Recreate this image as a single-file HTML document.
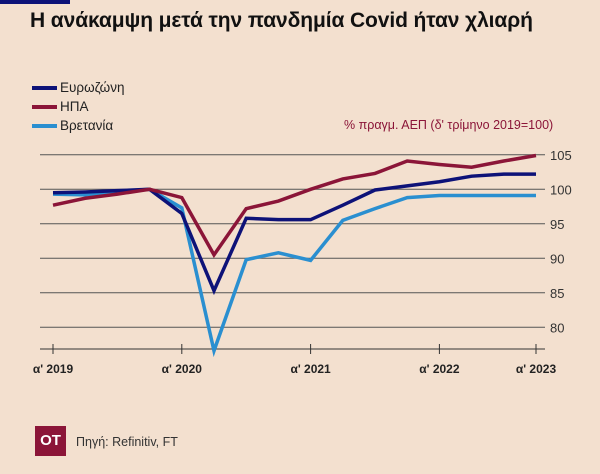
<!DOCTYPE html>
<html><head><meta charset="utf-8">
<style>
body{margin:0;width:600px;height:474px;background:#f3e0cf;font-family:"Liberation Sans","DejaVu Sans",sans-serif;overflow:hidden;position:relative}
#topbar{position:absolute;left:0;top:0;width:70px;height:4px;background:#0d1278}
#title{position:absolute;left:30px;top:9px;font-size:21px;font-weight:bold;color:#111;letter-spacing:-0.1px}
.leg{position:absolute;left:32px;font-size:13.5px;color:#222;display:flex;align-items:center}
.leg span{display:inline-block;width:25px;height:4px;margin-right:3px}
#unit{position:absolute;left:344px;top:118px;font-size:12.5px;color:#8b1538}
#logo{position:absolute;left:35px;top:426px;width:31px;height:30px;background:#8b1538;color:#fff;font-weight:bold;font-size:15px;text-align:center;line-height:30px}
#src{position:absolute;left:76px;top:435px;font-size:12.5px;color:#333}
svg{position:absolute;left:0;top:0}
</style></head><body>
<div id="topbar"></div>
<div id="title">Η ανάκαμψη μετά την πανδημία Covid ήταν χλιαρή</div>
<div class="leg" style="top:80px"><span style="background:#0d1278"></span>Ευρωζώνη</div>
<div class="leg" style="top:99px"><span style="background:#8b1538"></span>ΗΠΑ</div>
<div class="leg" style="top:118px"><span style="background:#2a8fd0"></span>Βρετανία</div>
<div id="unit">% πραγμ. ΑΕΠ (δ' τρίμηνο 2019=100)</div>
<svg id="chart" width="600" height="474"></svg>
<div id="logo">ΟΤ</div>
<div id="src">Πηγή: Refinitiv, FT</div>
<script>
const usa=[97.7,98.7,99.3,100,98.8,90.5,97.2,98.3,100,101.5,102.3,104.1,103.6,103.2,104.1,104.9];
const eurozone=[99.5,99.6,99.8,100,96.5,85.3,95.8,95.6,95.6,97.7,99.9,100.5,101.1,101.9,102.2,102.2];
const uk=[99.3,99.2,99.7,100,97.3,76.6,89.8,90.8,89.7,95.5,97.2,98.8,99.1,99.1,99.1,99.1];
const yTicks=[80,85,90,95,100,105];
const xTickIdx=[0,4,8,12,15];
const xTickLabels=["α' 2019","α' 2020","α' 2021","α' 2022","α' 2023"];
const NS="http://www.w3.org/2000/svg";
const svg=document.getElementById('chart');
const x=i=>53+i*32.2;
const y=v=>189.3-(v-100)*6.9;
function mk(t,a){const e=document.createElementNS(NS,t);for(const k in a)e.setAttribute(k,a[k]);svg.appendChild(e);return e;}
yTicks.forEach(v=>{
  const l=mk('line',{x1:40,x2:545,y1:y(v),y2:y(v),stroke:'#555','stroke-width':1});
  
  
  const t=mk('text',{x:550,y:y(v)+5,'font-size':13,fill:'#333','font-family':'Liberation Sans, sans-serif'});
  t.textContent=v;
  
  
});
const ax=mk('line',{x1:40,x2:545,y1:349,y2:349,stroke:'#333','stroke-width':1});


xTickIdx.forEach((i,k)=>{
  const tk=mk('line',{x1:x(i),x2:x(i),y1:344,y2:354,stroke:'#333','stroke-width':1});
  
  
  const t=mk('text',{x:x(i),y:373,'font-size':12,'font-weight':'bold',fill:'#222','text-anchor':'middle','font-family':'Liberation Sans, sans-serif'});
  t.textContent=xTickLabels[k];
  
  
});
function line(data,color,name){
  const p=mk('polyline',{points:data.map((v,i)=>x(i)+','+y(v)).join(' '),fill:'none',stroke:color,'stroke-width':3.5,'stroke-linejoin':'miter'});
  
  
}
line(uk,'#2a8fd0','series-uk');
line(eurozone,'#0d1278','series-eurozone');
line(usa,'#8b1538','series-usa');
</script>
</body></html>
